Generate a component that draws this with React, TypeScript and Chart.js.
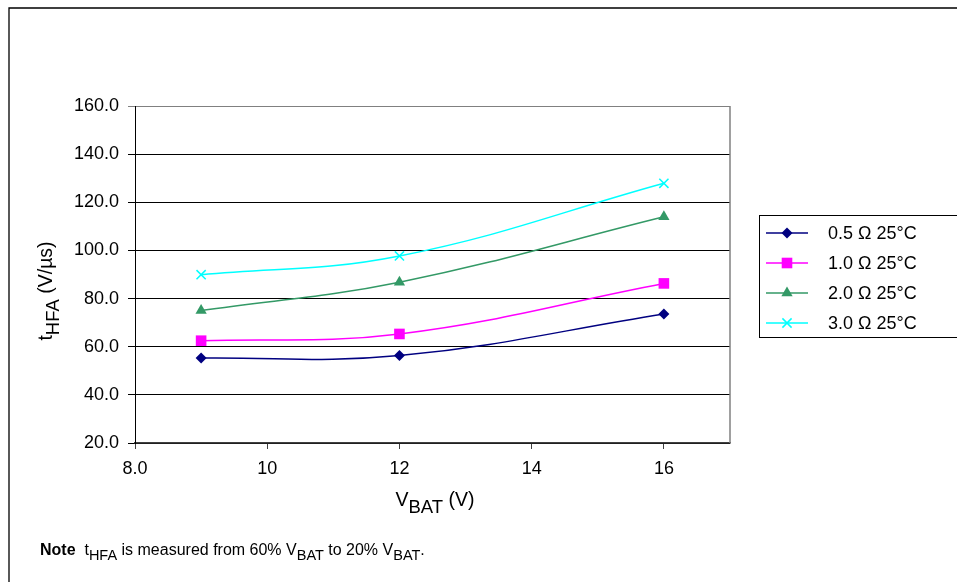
import React, { useEffect, useRef } from 'react';
import { Chart, registerables } from 'chart.js';

Chart.register(...registerables);

// ---- data ----
const X_VALUES = [9, 12, 16];
const SERIES_LABELS = ['0.5 Ω 25°C', '1.0 Ω 25°C', '2.0 Ω 25°C', '3.0 Ω 25°C'];
const S_05 = [55.3, 56.3, 73.6];
const S_10 = [62.5, 65.3, 86.3];
const S_20 = [75.0, 86.8, 114.0];
const S_30 = [89.9, 97.7, 127.9];
const X_TICKS = [8, 10, 12, 14, 16];
const X_TICK_LABELS = ['8.0', '10', '12', '14', '16'];
const Y_MIN = 20;
const Y_MAX = 160;
const Y_STEP = 20;
const X_MIN = 8;
const X_MAX = 17;

// ---- styles ----
const FAMILY = '"Liberation Sans", Arial, Helvetica, sans-serif';
const COLORS = ['#000080', '#FF00FF', '#339966', '#00FFFF'];
const POINT_STYLES = ['rectRot', 'rect', 'triangle', 'crossRot'];
const POINT_RADII = [5.5, 7.5, 6.5, 6.5];

type Run = { t: string; sub?: boolean; bold?: boolean };

const Y_TITLE: Run[] = [{ t: 't' }, { t: 'HFA', sub: true }, { t: ' (V/µs)' }];
const X_TITLE: Run[] = [{ t: 'V' }, { t: 'BAT', sub: true }, { t: ' (V)' }];
const NOTE: Run[] = [
  { t: 'Note', bold: true },
  { t: '  t' },
  { t: 'HFA', sub: true },
  { t: ' is measured from 60% V' },
  { t: 'BAT', sub: true },
  { t: ' to 20% V' },
  { t: 'BAT', sub: true },
  { t: '.' },
];

function drawRuns(
  ctx: CanvasRenderingContext2D,
  runs: Run[],
  x: number,
  y: number,
  size: number,
  subSize: number,
  subShift: number,
  align: 'left' | 'center'
) {
  const font = (r: Run) => `${r.bold ? 'bold ' : ''}${r.sub ? subSize : size}px ${FAMILY}`;
  let total = 0;
  for (const r of runs) {
    ctx.font = font(r);
    total += ctx.measureText(r.t).width;
  }
  let cx = align === 'center' ? x - total / 2 : x;
  ctx.textAlign = 'left';
  ctx.textBaseline = 'alphabetic';
  ctx.fillStyle = '#000';
  for (const r of runs) {
    ctx.font = font(r);
    ctx.fillText(r.t, cx, y + (r.sub ? subShift : 0));
    cx += ctx.measureText(r.t).width;
  }
}

function drawMarker(ctx: CanvasRenderingContext2D, style: string, x: number, y: number, r: number, color: string) {
  ctx.save();
  ctx.fillStyle = color;
  ctx.strokeStyle = color;
  ctx.lineWidth = 1.5;
  ctx.beginPath();
  if (style === 'rectRot') {
    ctx.moveTo(x - r, y);
    ctx.lineTo(x, y - r);
    ctx.lineTo(x + r, y);
    ctx.lineTo(x, y + r);
    ctx.closePath();
    ctx.fill();
  } else if (style === 'rect') {
    const s = r * Math.SQRT1_2;
    ctx.rect(x - s, y - s, 2 * s, 2 * s);
    ctx.fill();
  } else if (style === 'triangle') {
    for (let i = 0; i < 3; i++) {
      const a = (i * 2 * Math.PI) / 3;
      const px = x + Math.sin(a) * r;
      const py = y - Math.cos(a) * r;
      if (i === 0) ctx.moveTo(px, py);
      else ctx.lineTo(px, py);
    }
    ctx.closePath();
    ctx.fill();
  } else {
    const d = r * Math.SQRT1_2;
    ctx.moveTo(x - d, y - d);
    ctx.lineTo(x + d, y + d);
    ctx.moveTo(x + d, y - d);
    ctx.lineTo(x - d, y + d);
    ctx.stroke();
  }
  ctx.restore();
}

const decorPlugin = {
  id: 'decor',
  afterDraw(chart: any) {
    const ctx: CanvasRenderingContext2D = chart.ctx;
    const area = chart.chartArea;
    ctx.save();
    // outer frame (top & left visible)
    ctx.strokeStyle = '#000';
    ctx.lineWidth = 1.3;
    ctx.beginPath();
    ctx.moveTo(9, 600);
    ctx.lineTo(9, 8);
    ctx.lineTo(980, 8);
    ctx.stroke();

    // plot right border
    ctx.strokeStyle = '#808080';
    ctx.lineWidth = 1.5;
    ctx.beginPath();
    ctx.moveTo(area.right, area.top);
    ctx.lineTo(area.right, area.bottom);
    ctx.stroke();

    // legend
    const lx = 759.5;
    const ly = 215.5;
    ctx.strokeStyle = '#000';
    ctx.lineWidth = 1;
    ctx.strokeRect(lx, ly, 260, 122);
    chart.data.datasets.forEach((ds: any, i: number) => {
      const cy = 233 + i * 30;
      ctx.strokeStyle = COLORS[i];
      ctx.lineWidth = 1.5;
      ctx.beginPath();
      ctx.moveTo(766, cy);
      ctx.lineTo(808, cy);
      ctx.stroke();
      drawMarker(ctx, POINT_STYLES[i], 787, cy, POINT_RADII[i], COLORS[i]);
      ctx.fillStyle = '#000';
      ctx.font = `18px ${FAMILY}`;
      ctx.textAlign = 'left';
      ctx.textBaseline = 'middle';
      ctx.fillText(ds.label, 828, cy + 1);
    });

    // y title (rotated)
    ctx.save();
    ctx.translate(52, 291);
    ctx.rotate(-Math.PI / 2);
    drawRuns(ctx, Y_TITLE, 0, 0, 19.5, 18.5, 6.5, 'center');
    ctx.restore();

    // x title
    drawRuns(ctx, X_TITLE, 435, 506, 19.5, 18.5, 6.5, 'center');

    // note
    drawRuns(ctx, NOTE, 40, 555, 16, 14.5, 5, 'left');
    ctx.restore();
  },
};

export default function App() {
  const canvasRef = useRef<HTMLCanvasElement | null>(null);

  useEffect(() => {
    if (!canvasRef.current) return;
    const seriesValues = [S_05, S_10, S_20, S_30];
    const chart = new Chart(canvasRef.current, {
      type: 'line',
      data: {
        datasets: seriesValues.map((vals, i) => ({
          label: SERIES_LABELS[i],
          data: X_VALUES.map((x, j) => ({ x, y: vals[j] })),
          borderColor: COLORS[i],
          backgroundColor: COLORS[i],
          borderWidth: 1.5,
          pointStyle: POINT_STYLES[i] as any,
          pointRadius: POINT_RADII[i],
          pointBorderWidth: i === 3 ? 1.5 : 0,
          pointBackgroundColor: COLORS[i],
          pointBorderColor: COLORS[i],
          tension: 0.4,
          fill: false,
        })),
      },
      options: {
        animation: false,
        responsive: true,
        maintainAspectRatio: false,
        events: [],
        layout: { padding: { left: 0, top: 106, right: 227, bottom: 0 } },
        plugins: {
          legend: { display: false },
          tooltip: { enabled: false },
          title: { display: false },
        },
        scales: {
          x: {
            type: 'linear',
            min: X_MIN,
            max: X_MAX,
            afterBuildTicks: (s: any) => {
              s.ticks = X_TICKS.map((v) => ({ value: v }));
            },
            afterFit: (s: any) => {
              s.height = 139;
            },
            ticks: {
              autoSkip: false,
              maxRotation: 0,
              color: '#000',
              padding: 9,
              font: { family: FAMILY, size: 18 },
              callback: (v: any) => {
                const idx = X_TICKS.indexOf(Number(v));
                return idx >= 0 ? X_TICK_LABELS[idx] : '';
              },
            },
            grid: { drawOnChartArea: false, drawTicks: true, tickLength: 6, color: '#404040' },
            border: { color: '#404040', width: 1.5 },
          },
          y: {
            type: 'linear',
            min: Y_MIN,
            max: Y_MAX,
            afterFit: (s: any) => {
              s.width = 135;
            },
            ticks: {
              stepSize: Y_STEP,
              color: '#000',
              padding: 9,
              font: { family: FAMILY, size: 18 },
              callback: (v: any) => Number(v).toFixed(1),
            },
            grid: {
              color: (c: any) => (c.tick && c.tick.value === Y_MAX ? '#808080' : '#000'),
              tickLength: 7,
              lineWidth: 1,
            },
            border: { color: '#000', width: 1 },
          },
        },
      },
      plugins: [decorPlugin],
    });
    return () => chart.destroy();
  }, []);

  return (
    <div style={{ position: 'absolute', left: 0, top: 0, width: 957, height: 582, background: '#fff' }}>
      <canvas ref={canvasRef} />
    </div>
  );
}
